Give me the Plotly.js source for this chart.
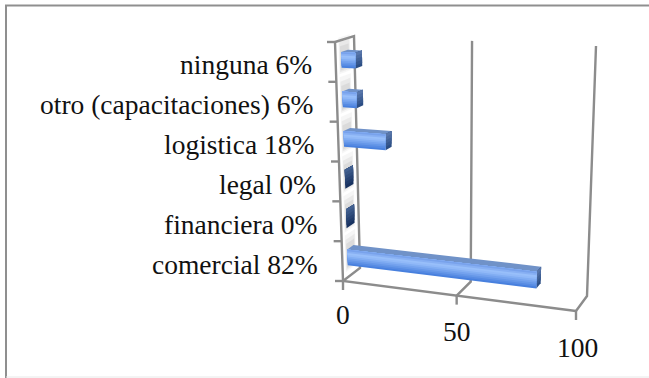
<!DOCTYPE html>
<html>
<head>
<meta charset="utf-8">
<script src="https://cdn.plot.ly/plotly-3.0.1.min.js"></script>
<style>html,body{margin:0;padding:0;background:#fff}#chart{width:649px;height:378px}</style>
</head>
<body>
<div id="chart"></div>
<script>
const categories = ['comercial', 'financiera', 'legal', 'logistica', 'otro (capacitaciones)', 'ninguna'];
const values = [82, 0, 0, 18, 6, 6];
const valueTicks = [0, 50, 100];
const axisMax = 100;

const GREY = '#8c8c8c';
const TEXT = '#111111';
const FONT = '"Liberation Serif", serif';

// Corners of the 3D box in plot units: front/back plane, bottom/top, left/right.
const box = {
  fb0: [343, 281], fb1: [576, 311], ft0: [335, 42], ft1: [586, 54],
  bb0: [360, 268], bb1: [587, 296], bt0: [354, 36], bt1: [596, 46]
};
const lerp = (a, b, t) => [a[0] + (b[0] - a[0]) * t, a[1] + (b[1] - a[1]) * t];
// Mild perspective along the value axis.
const warp = t => t / (t + 1.05 * (1 - t));

// value v, height h (0..1), depth d (0 front, 1 back) -> plot coordinates
function project(v, h, d) {
  const t = warp(v / axisMax);
  const front = lerp(lerp(box.fb0, box.fb1, t), lerp(box.ft0, box.ft1, t), h);
  const back = lerp(lerp(box.bb0, box.bb1, t), lerp(box.bt0, box.bt1, t), h);
  return lerp(front, back, d);
}

const traces = [];
function line(points, width, color) {
  traces.push({
    x: points.map(p => p[0]), y: points.map(p => p[1]),
    mode: 'lines', line: {color: color || GREY, width: width || 2.4},
    hoverinfo: 'skip', showlegend: false
  });
}
function poly(points, color, opacity) {
  const closed = points.concat([points[0]]);
  traces.push({
    x: closed.map(p => p[0]), y: closed.map(p => p[1]),
    mode: 'lines', fill: 'toself', fillcolor: color,
    line: {width: 0, color: color}, opacity: opacity === undefined ? 1 : opacity,
    hoverinfo: 'skip', showlegend: false
  });
}
function mix(a, b, t) {
  return 'rgb(' + a.map((c, i) => Math.round(c + (b[i] - c) * t)).join(',') + ')';
}

// Walls, floor and gridlines
line([project(0, 1, 0), project(0, 0, 0), project(100, 0, 0)]);
line([project(0, 1, 0), project(0, 1, 1), project(0, 0, 1), project(0, 0, 0)]);
valueTicks.slice(1).forEach(v => {
  line([project(v, 0, 0), project(v, 0, 1), project(v, 1, 1)]);
});

// Axis tick marks
valueTicks.forEach(v => {
  const p = project(v, 0, 0);
  line([p, [p[0], p[1] + 9]]);
});
for (let i = 0; i <= categories.length; i++) {
  const p = project(0, i / categories.length, 0);
  line([p, [p[0] - 8, p[1]]]);
}

const BAND = 1 / categories.length;
const BAR_H = 0.40 * BAND;
const D0 = 0.30, D1 = 0.66;

// Gradient painted bottom-up: every step reaches the top edge, so no seams show.
function gradient(h0, h1, steps, colorAt, corners) {
  for (let s = 0; s < steps; s++) {
    const a = h0 + (h1 - h0) * s / steps;
    poly(corners(a, h1), colorAt(s / (steps - 1)));
  }
}

categories.forEach((name, i) => {
  const mid = (i + 0.5) * BAND;
  const h0 = mid - BAR_H / 2, h1 = mid + BAR_H / 2;
  const v = values[i];

  // Soft shadow on the side wall, heavier towards the upper end
  [[0.20, 0.12], [0.14, 0.18], [0.08, 0.26]].forEach(([grow, op]) => {
    poly([
      project(0, h0 - grow * BAND * 0.7, D0 - grow * 0.6),
      project(0, h0 - grow * BAND * 0.7, D1 + grow * 0.6),
      project(0, h1 + grow * BAND * 1.9, D1 + grow * 0.6),
      project(0, h1 + grow * BAND * 1.9, D0 - grow * 0.6)
    ], '#b4b4b4', op);
  });

  if (v === 0) {
    // Empty series: only the end cap is visible
    gradient(h0 - 0.06 * BAND, h1 + 0.02 * BAND, 6,
      t => mix([24, 50, 96], [66, 96, 144], t),
      (a, b) => [project(0, a, D0), project(0, a, D1 + 0.1), project(0, b, D1 + 0.1), project(0, b, D0)]);
    return;
  }

  // Top face
  poly([project(0, h1, D0), project(0, h1, D1), project(v, h1, D1), project(v, h1, D0)], '#7092c8');
  // End face
  gradient(h0, h1, 5,
    t => mix([44, 78, 132], [88, 118, 170], t),
    (a, b) => [project(v, a, D0), project(v, a, D1), project(v, b, D1), project(v, b, D0)]);
  // Front face
  gradient(h0, h1, 9,
    t => t < 0.72 ? mix([72, 128, 222], [156, 194, 252], t / 0.72)
                  : mix([156, 194, 252], [120, 162, 236], (t - 0.72) / 0.28),
    (a, b) => [project(0, a, D0), project(v, a, D0), project(v, b, D0), project(0, b, D0)]);
});

// Text labels
const annotations = [];
categories.forEach((name, i) => {
  const p = project(0, (i + 0.5) * BAND, 0);
  annotations.push({
    x: p[0] - 22, y: p[1] + 3, xref: 'x', yref: 'y', xanchor: 'right', yanchor: 'middle',
    text: name + ' ' + values[i] + '%', showarrow: false, font: {family: FONT, size: 27.5, color: TEXT}
  });
});
valueTicks.forEach(v => {
  const p = project(v, 0, 0);
  annotations.push({
    x: p[0] + (v === 0 ? 0 : v === 50 ? 0 : 1), y: p[1] + (v === 0 ? 33 : 36), xref: 'x', yref: 'y',
    xanchor: 'center', yanchor: 'middle',
    text: String(v), showarrow: false, font: {family: FONT, size: 27.5, color: TEXT}
  });
});

// Frame: top and left rules reach the page edges, the bottom rule is faint.
const frame = (x0, y0, x1, y1, color, width) => ({
  type: 'line', xref: 'x', yref: 'y', x0: x0, y0: y0, x1: x1, y1: y1,
  line: {color: color, width: width}, layer: 'below'
});

const layout = {
  width: 649, height: 378,
  margin: {l: 0, r: 0, t: 0, b: 0},
  paper_bgcolor: '#ffffff', plot_bgcolor: '#ffffff',
  showlegend: false,
  xaxis: {range: [0, 649], visible: false, fixedrange: true},
  yaxis: {range: [378, 0], visible: false, fixedrange: true},
  annotations: annotations,
  shapes: [
    frame(5, 5.5, 649, 5.5, '#8f8f8f', 2),
    frame(6, 5, 6, 378, '#8f8f8f', 2),
    frame(6, 377, 649, 377, '#e8e8e8', 1)
  ]
};

Plotly.newPlot('chart', traces, layout, {displayModeBar: false, staticPlot: true});
</script>
</body>
</html>
